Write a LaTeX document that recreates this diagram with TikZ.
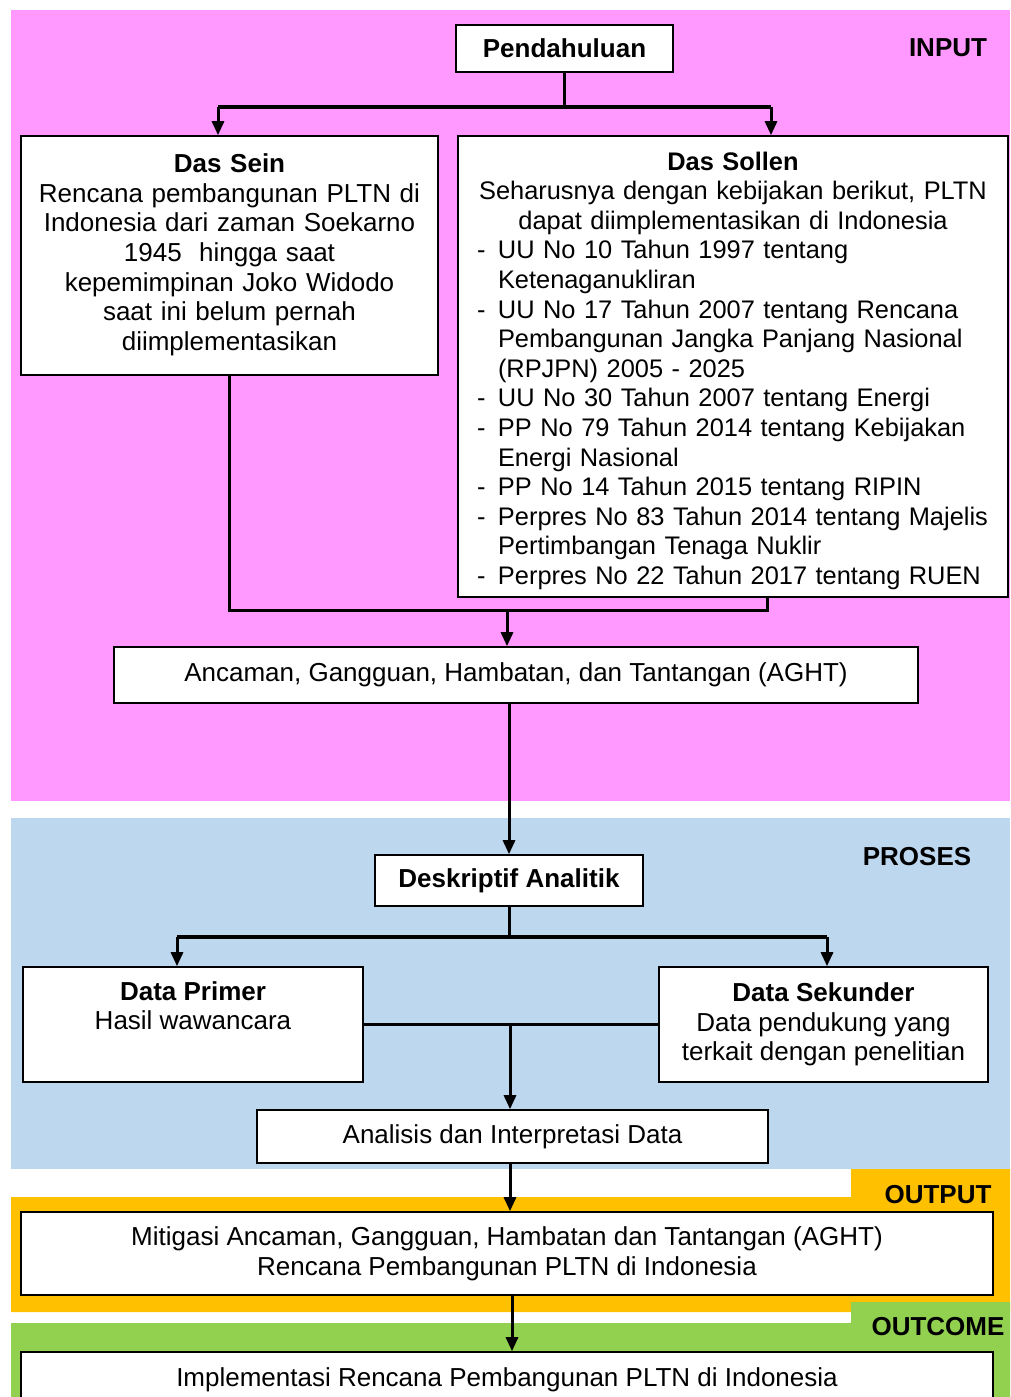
\documentclass[tikz,border=0pt]{standalone}
\usepackage{fontspec}
\setmainfont{Liberation Sans}
\usetikzlibrary{arrows.meta}

\definecolor{inpink}{HTML}{FF99FF}
\definecolor{prosblue}{HTML}{BDD7EE}
\definecolor{outorange}{HTML}{FFC000}
\definecolor{outgreen}{HTML}{92D050}

\newcommand{\sollenhead}[1]{\makebox[512pt]{#1}}
\newcommand{\dashitem}[1]{\mbox{\makebox[21pt][l]{-}#1}}
\newcommand{\dashcont}[1]{\mbox{\hspace*{21pt}#1}}

\tikzset{
	box/.style={draw, fill=white, line width=1.6pt, inner sep=3pt, align=center},
	flowline/.style={line width=3pt},
	forkline/.style={line width=4.5pt},
	flowarrow/.style={-{Triangle[length=14pt,width=12pt]}},
	zonelabel/.style={font=\fontsize{26}{29.6}\selectfont\bfseries, inner sep=0pt}
}

\begin{document}
\begin{tikzpicture}[x=1pt, y=-1pt, font=\fontsize{26}{29.6}\selectfont]
	\useasboundingbox (0,0) rectangle (1010,1397);
	% zones
	\fill[inpink] (11,10) rectangle (1010,801);
	\fill[prosblue] (11,818) rectangle (1010,1169);
	\fill[outorange] (11,1197) rectangle (1010,1312) (851,1169) rectangle (1010,1197);
	\fill[outgreen] (11,1323) rectangle (1010,1397) (851,1302) rectangle (1010,1323);
	\foreach \name/\x/\y in {INPUT/948/48, PROSES/917/857, OUTPUT/938/1195, OUTCOME/938/1327}
		\node[zonelabel] (zone\name) at (\x,\y) {\name};

	% input
	\node[box, minimum width=217pt, minimum height=47pt] (pend) at (564.5,48.5) {\textbf{Pendahuluan}};
	\node[box, minimum width=417pt, minimum height=239pt, text width=405pt] (sein) at (229.5,255.5)
		{\textbf{Das Sein}\\Rencana pembangunan PLTN di\\Indonesia dari zaman Soekarno\\1945~ hingga saat\\kepemimpinan Joko Widodo\\saat ini belum pernah\\diimplementasikan\rule[-7pt]{0pt}{7pt}};
	\node[box, minimum width=550pt, minimum height=461pt, text width=512pt, align=left,
		font=\fontsize{25.4}{29.6}\selectfont] (sollen) at (733,366.5)
		{\sollenhead{\rule{0pt}{27pt}\textbf{Das Sollen}}\\
		\sollenhead{Seharusnya dengan kebijakan berikut, PLTN}\\
		\sollenhead{dapat diimplementasikan di Indonesia}\\
		\dashitem{UU No 10 Tahun 1997 tentang}\\
		\dashcont{Ketenaganukliran}\\
		\dashitem{UU No 17 Tahun 2007 tentang Rencana}\\
		\dashcont{Pembangunan Jangka Panjang Nasional}\\
		\dashcont{(RPJPN) 2005 - 2025}\\
		\dashitem{UU No 30 Tahun 2007 tentang Energi}\\
		\dashitem{PP No 79 Tahun 2014 tentang Kebijakan}\\
		\dashcont{Energi Nasional}\\
		\dashitem{PP No 14 Tahun 2015 tentang RIPIN}\\
		\dashitem{Perpres No 83 Tahun 2014 tentang Majelis}\\
		\dashcont{Pertimbangan Tenaga Nuklir}\\
		\dashitem{Perpres No 22 Tahun 2017 tentang RUEN}};
	\node[box, minimum width=804pt, minimum height=56pt] (aght) at (516,675) {Ancaman, Gangguan, Hambatan, dan Tantangan (AGHT)};

	\coordinate (pj) at (pend.south |- 0,107);
	\coordinate (pl) at (218,107);
	\coordinate (pr) at (771,107);
	\draw[flowline] (pend.south) -- (pj);
	\draw[forkline] (pl) -- (pr);
	\draw[flowline, flowarrow] (pl) -- (pl |- sein.north);
	\draw[flowline, flowarrow] (pr) -- (pr |- sollen.north);

	\coordinate (mj) at (507,610);
	\coordinate (sb) at (sollen.south -| 767,0);
	\draw[flowline] (sein.south) |- (sb |- mj) -- (sb);
	\draw[flowline, flowarrow] (mj) -- (mj |- aght.north);

	% proses
	\node[box, minimum width=268pt, minimum height=51pt] (desk) at (509,880.5) {\textbf{Deskriptif Analitik}};
	\node[box, minimum width=340pt, minimum height=115pt] (primer) at (193,1024.5) {};
	\node[anchor=north, align=center, inner sep=0pt] (primertxt) at ([yshift=-15pt]primer.north) {\textbf{Data Primer}\\Hasil wawancara};
	\node[box, minimum width=329pt, minimum height=115pt] (sekunder) at (823.5,1024.5)
		{\textbf{Data Sekunder}\\Data pendukung yang\\terkait dengan penelitian};
	\node[box, minimum width=511pt, minimum height=53pt] (analisis) at (512.5,1136.5) {Analisis dan Interpretasi Data};

	\draw[flowline, flowarrow] (desk.north |- aght.south) -- (desk.north);
	\coordinate (dl) at (177,937);
	\coordinate (dr) at (827,937);
	\draw[flowline] (desk.south) -- (desk.south |- dl);
	\draw[forkline] (dl) -- (dr);
	\draw[flowline, flowarrow] (dl) -- (dl |- primer.north);
	\draw[flowline, flowarrow] (dr) -- (dr |- sekunder.north);
	\draw[line width=2.4pt] (primer.east) -- (sekunder.west);
	\draw[flowline, flowarrow] (primer.east -| 510,0) -- (analisis.north -| 510,0);

	% output, outcome
	\node[box, minimum width=972pt, minimum height=83pt] (mitigasi) at (507,1253.5)
		{Mitigasi Ancaman, Gangguan, Hambatan dan Tantangan (AGHT)\\Rencana Pembangunan PLTN di Indonesia};
	\node[box, minimum width=972pt, minimum height=56pt] (impl) at (507,1380) {Implementasi Rencana Pembangunan PLTN di Indonesia};

	\draw[flowline, flowarrow] (analisis.south -| 510,0) -- (mitigasi.north -| 510,0);
	\draw[flowline, flowarrow] (mitigasi.south -| 512,0) -- (impl.north -| 512,0);
\end{tikzpicture}
\end{document}
